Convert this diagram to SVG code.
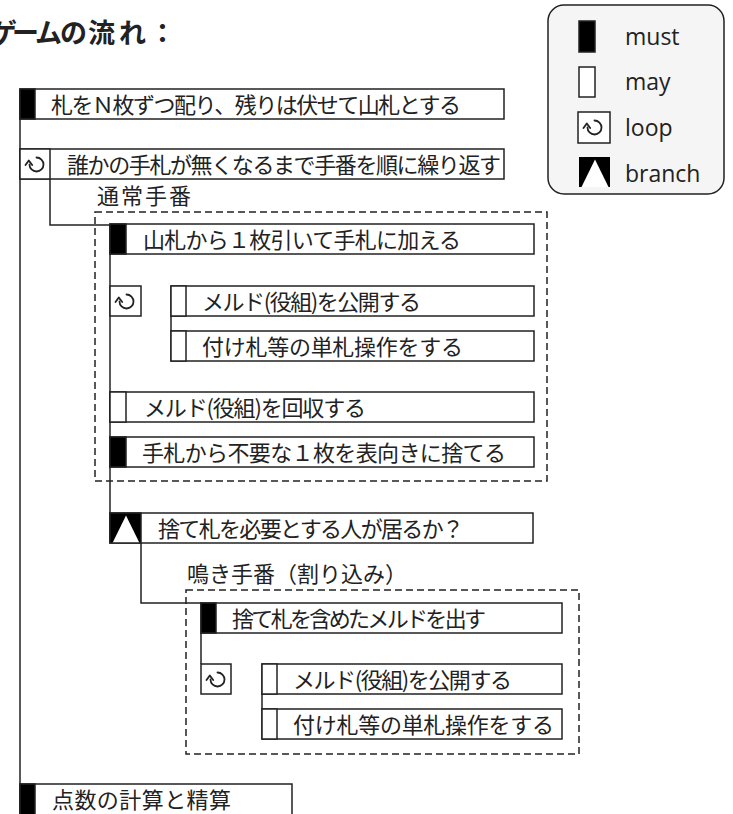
<svg xmlns="http://www.w3.org/2000/svg" xmlns:xlink="http://www.w3.org/1999/xlink" width="733" height="814" viewBox="0 0 733 814">
<style>
.box{fill:#fff;stroke:#222;stroke-width:1.5}
.bar{fill:#000;stroke:#222;stroke-width:1.5}
.conn{fill:none;stroke:#222;stroke-width:1.5}
.dash{fill:none;stroke:#222;stroke-width:1.5;stroke-dasharray:7 4}
.lbl{font-family:"Noto Sans CJK JP","Noto Sans CJK SC",sans-serif;font-size:22px;fill:#222}
.ttl{font-family:"Noto Sans CJK JP","Noto Sans CJK SC",sans-serif;font-size:27px;font-weight:700;fill:#222}
.leg{font-family:"Open Sans","Noto Sans",sans-serif;font-size:23px;fill:#222}
.ico{fill:none;stroke:#222;stroke-width:1.8;stroke-linecap:round;stroke-linejoin:round}
</style>
<defs>
<g id="loopIcon">
<path class="ico" d="M16.5,8.5 A7,7 0 1 1 9.5,15.5"/>
<path class="ico" d="M5.5,16 L8.8,11.5 L12.2,16"/>
</g>
<g id="branchIcon">
<rect x="0" y="0" width="31" height="30" fill="#000"/>
<polygon points="16,2.5 2.5,30 29.5,30" fill="#fff"/>
</g>
</defs>

<text class="ttl" x="-10 12 35 60 88 119 149" y="43">ゲームの流れ：</text>

<g id="legend">
<rect x="548" y="5" width="176" height="189" rx="16" fill="#f5f5f5" stroke="#222" stroke-width="1.5"/>
<rect x="579" y="21" width="16" height="31" class="bar"/>
<text class="leg" x="625" y="45">must</text>
<rect x="579" y="67" width="16" height="30" class="box"/>
<text class="leg" x="625" y="90">may</text>
<rect x="578" y="112" width="32" height="31" class="box"/>
<use xlink:href="#loopIcon" x="578" y="112"/>
<text class="leg" x="625" y="136">loop</text>
<use xlink:href="#branchIcon" x="579" y="157"/>
<text class="leg" x="625" y="182">branch</text>
</g>

<g id="connectors">
<line class="conn" x1="20" y1="89" x2="20" y2="815"/>
<polyline class="conn" points="50,179 50,225 110,225"/>
<line class="conn" x1="110" y1="225" x2="110" y2="543"/>
<line class="conn" x1="171" y1="316" x2="171" y2="331"/>
<polyline class="conn" points="141,543 141,603 201,603"/>
<line class="conn" x1="201" y1="633" x2="201" y2="664"/>
<line class="conn" x1="262" y1="694" x2="262" y2="709"/>
</g>

<g id="groups">
<text class="lbl" x="97" y="204" textLength="94">通常手番</text>
<rect class="dash" x="95" y="212" width="452" height="269"/>
<text class="lbl" x="187" y="582">鳴き手番（割り込み）</text>
<rect class="dash" x="186" y="590" width="393" height="164"/>
</g>

<g id="n1">
<rect class="box" x="20" y="89" width="484" height="30"/>
<rect class="bar" x="20" y="89" width="15" height="30"/>
<text class="lbl" x="51" y="113" textLength="410">札をＮ枚ずつ配り、残りは伏せて山札とする</text>
</g>

<g id="n2">
<rect class="box" x="20" y="149" width="484" height="30"/>
<rect class="box" x="20" y="149" width="30" height="30"/>
<use xlink:href="#loopIcon" x="20" y="149"/>
<text class="lbl" x="67" y="173" textLength="434">誰かの手札が無くなるまで手番を順に繰り返す</text>
</g>

<g id="n3">
<rect class="box" x="110" y="224" width="424" height="30"/>
<rect class="bar" x="110" y="224" width="16" height="30"/>
<text class="lbl" x="143" y="248" textLength="318">山札から１枚引いて手札に加える</text>
</g>

<g id="n4">
<rect class="box" x="110" y="286" width="31" height="30"/>
<use xlink:href="#loopIcon" x="110" y="286"/>
</g>

<g id="n5">
<rect class="box" x="171" y="286" width="363" height="30"/>
<rect class="box" x="171" y="286" width="15" height="30"/>
<text class="lbl" x="202" y="310" textLength="219">メルド(役組)を公開する</text>
</g>

<g id="n6">
<rect class="box" x="171" y="331" width="363" height="30"/>
<rect class="box" x="171" y="331" width="15" height="30"/>
<text class="lbl" x="202" y="355" textLength="261">付け札等の単札操作をする</text>
</g>

<g id="n7">
<rect class="box" x="110" y="392" width="424" height="30"/>
<rect class="box" x="110" y="392" width="16" height="30"/>
<text class="lbl" x="144" y="416" textLength="222">メルド(役組)を回収する</text>
</g>

<g id="n8">
<rect class="box" x="110" y="437" width="424" height="30"/>
<rect class="bar" x="110" y="437" width="16" height="30"/>
<text class="lbl" x="142" y="461" textLength="364">手札から不要な１枚を表向きに捨てる</text>
</g>

<g id="n9">
<rect class="box" x="110" y="513" width="423" height="30"/>
<use xlink:href="#branchIcon" x="110" y="513"/>
<rect class="box" x="110" y="513" width="31" height="30" fill="none" style="fill:none"/>
<text class="lbl" x="158" y="537" textLength="306">捨て札を必要とする人が居るか？</text>
</g>

<g id="n10">
<rect class="box" x="201" y="603" width="361" height="30"/>
<rect class="bar" x="201" y="603" width="15" height="30"/>
<text class="lbl" x="232" y="627" textLength="254">捨て札を含めたメルドを出す</text>
</g>

<g id="n11">
<rect class="box" x="201" y="664" width="30" height="30"/>
<use xlink:href="#loopIcon" x="201" y="664"/>
</g>

<g id="n12">
<rect class="box" x="262" y="664" width="300" height="30"/>
<rect class="box" x="262" y="664" width="15" height="30"/>
<text class="lbl" x="293" y="688" textLength="219">メルド(役組)を公開する</text>
</g>

<g id="n13">
<rect class="box" x="262" y="709" width="300" height="30"/>
<rect class="box" x="262" y="709" width="15" height="30"/>
<text class="lbl" x="293" y="733" textLength="261">付け札等の単札操作をする</text>
</g>

<g id="n14">
<rect class="box" x="20" y="784" width="272" height="32"/>
<rect class="bar" x="20" y="784" width="15" height="32"/>
<text class="lbl" x="52" y="808" textLength="179">点数の計算と精算</text>
</g>
</svg>
